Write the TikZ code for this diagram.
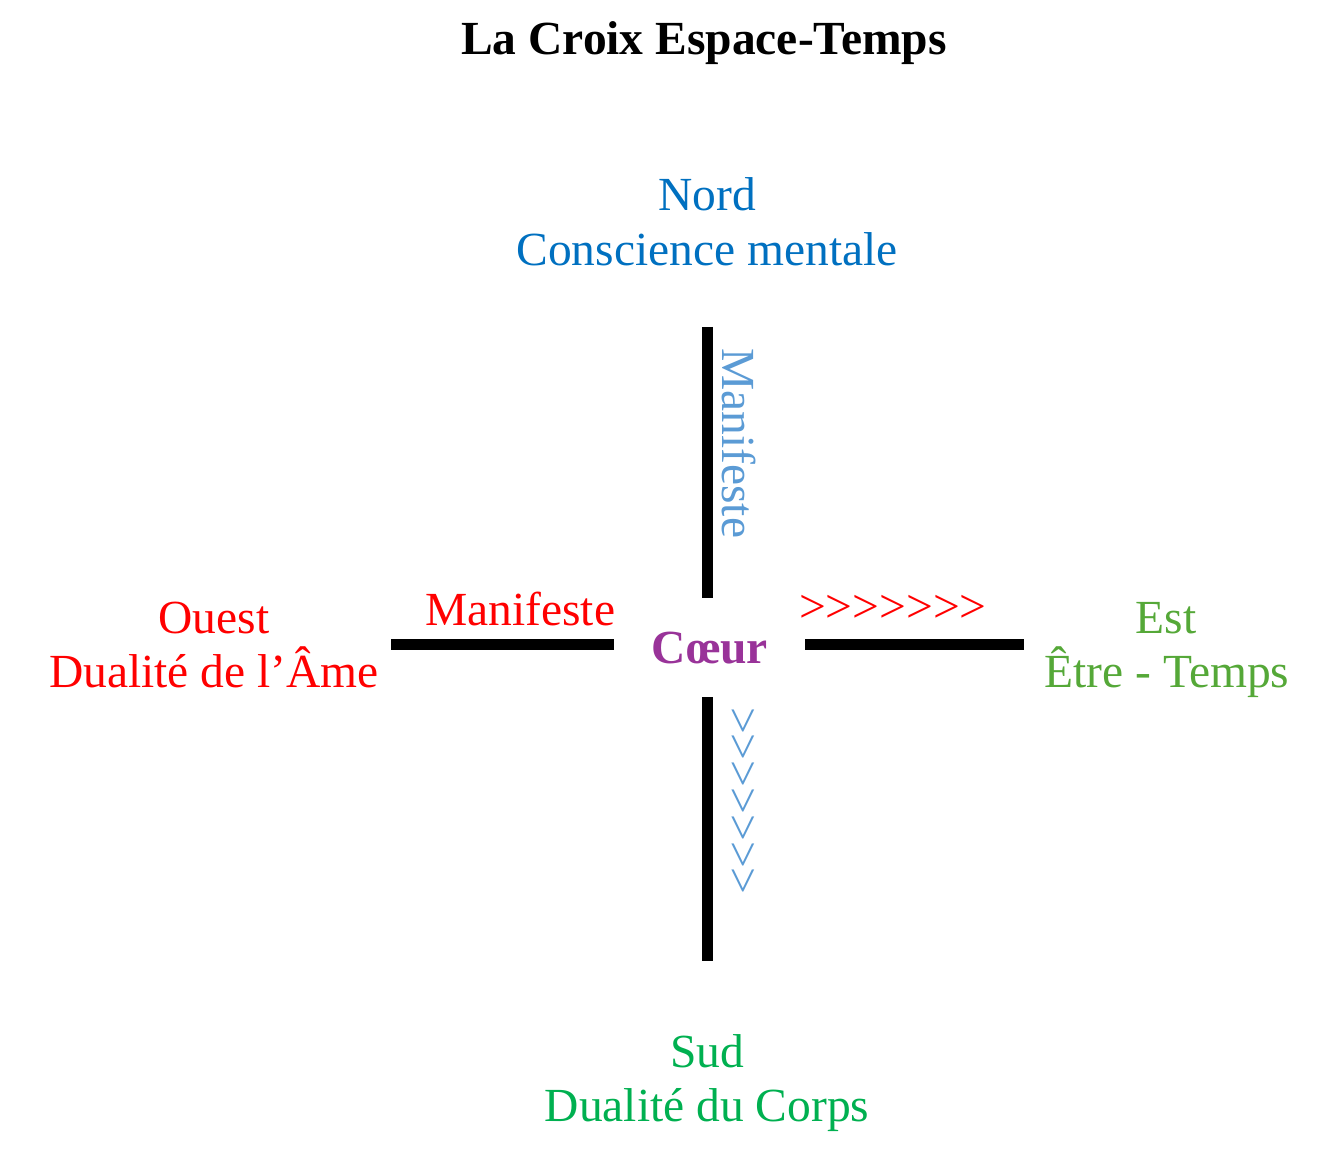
\documentclass[tikz,border=0pt]{standalone}
\usepackage{fontspec}
\setmainfont{Liberation Serif}
\newfontfamily\plainserif{Liberation Serif}
\definecolor{nordblue}{HTML}{0070C0}
\definecolor{manblue}{HTML}{5B9BD5}
\definecolor{westred}{HTML}{FF0000}
\definecolor{estgreen}{HTML}{55A838}
\definecolor{sudgreen}{HTML}{00B050}
\definecolor{coeurpurple}{HTML}{993399}
\tikzset{
  lbl/.style={inner sep=0pt, anchor=base, font=\fontsize{47.5}{55}\selectfont},
  lblw/.style={inner sep=0pt, anchor=base west, font=\fontsize{47.5}{55}\selectfont},
  chev/.style={inner sep=0pt, anchor=base west, font=\fontsize{47.5}{55}\plainserif},
  arm/.style={line width=10.5pt, black},
}
\begin{document}
\begin{tikzpicture}[x=1pt,y=-1pt]
\useasboundingbox (0,0) rectangle (1339,1174);
% title
\node[lbl, font=\fontsize{47.5}{55}\selectfont\bfseries] (title) at (704,55) {La Croix Espace-Temps};
% north
\node[lbl, text=nordblue] (nord1) at (707,211) {Nord};
\node[lbl, text=nordblue] (nord2) at (707,266) {Conscience mentale};
% west
\node[lbl, text=westred] (ouest1) at (214,633) {Ouest};
\node[lbl, text=westred] (ouest2) at (214,687) {Dualité de l’Âme};
% east
\node[lbl, text=estgreen] (est1) at (1166,633) {Est};
\node[lbl, text=estgreen] (est2) at (1167,687) {Être - Temps};
% south
\node[lbl, text=sudgreen] (sud1) at (707,1067) {Sud};
\node[lbl, text=sudgreen] (sud2) at (707,1121) {Dualité du Corps};
% centre
\node[lbl, text=coeurpurple, font=\fontsize{47.5}{55}\selectfont\bfseries] (coeur) at (710,663) {Cœur};
% arms
\coordinate (nA) at (707.5,327);
\coordinate (nB) at (707.5,598);
\coordinate (sA) at (707.5,697);
\coordinate (sB) at (707.5,961);
\coordinate (wA) at (391,644.5);
\coordinate (wB) at (614,644.5);
\coordinate (eA) at (805,644.5);
\coordinate (eB) at (1024,644.5);
\draw[arm] (nA) -- (nB);
\draw[arm] (sA) -- (sB);
\draw[arm] (wA) -- (wB);
\draw[arm] (eA) -- (eB);
% arm labels
\node[lblw, text=westred] (manw) at (425,625) {Manifeste};
\node[lblw, text=manblue, rotate=-90] (mann) at (722,348) {Manifeste};
\node[chev, text=westred] (chevE) at (799,622) {>>>>>>>};
\node[chev, text=manblue, rotate=-90] (chevS) at (727,707) {>>>>>>>};
\end{tikzpicture}
\end{document}
